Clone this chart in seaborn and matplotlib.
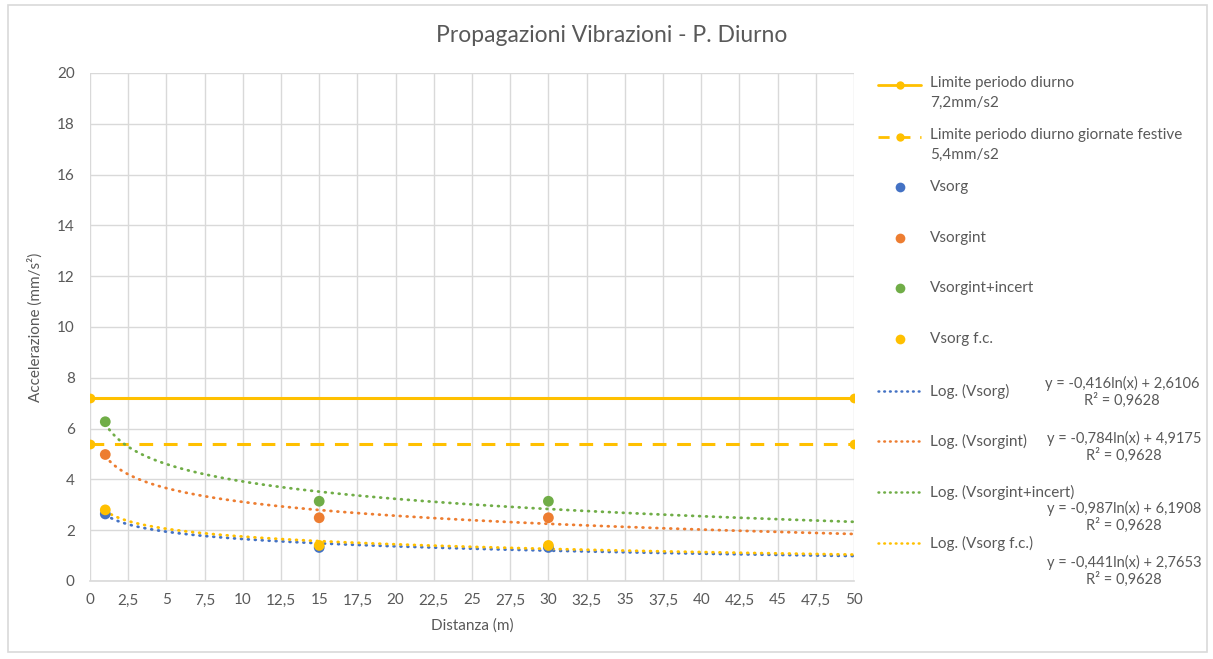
import numpy as np
import pandas as pd
import matplotlib
matplotlib.use("Agg")
import matplotlib.pyplot as plt
from matplotlib.lines import Line2D
from matplotlib.patches import Rectangle
from matplotlib.ticker import FuncFormatter, MultipleLocator
import seaborn as sns

# ---------------- data ----------------
distances = [1, 15, 30]
series_names = ["Vsorg", "Vsorgint", "Vsorgint+incert", "Vsorg f.c."]
vsorg = [2.64, 1.32, 1.32]
vsorgint = [4.98, 2.49, 2.49]
vsorgint_incert = [6.27, 3.14, 3.14]
vsorg_fc = [2.80, 1.40, 1.40]

limit_x = [0, 50]
limit_diurno = [7.2, 7.2]
limit_festive = [5.4, 5.4]

# trendline coefficients (y = a*ln(x) + b) as shown on the chart
trend_a = [-0.416, -0.784, -0.987, -0.441]
trend_b = [2.6106, 4.9175, 6.1908, 2.7653]
trend_r2 = [0.9628, 0.9628, 0.9628, 0.9628]
trend_x_range = [1, 50]

title = "Propagazioni Vibrazioni - P. Diurno"
xlabel = "Distanza (m)"
ylabel = "Accelerazione (mm/s²)"
limit_labels = ["Limite periodo diurno\n7,2mm/s2",
                "Limite periodo diurno giornate festive\n5,4mm/s2"]

# ---------------- style ----------------
sns.set_theme(style="white")
plt.rcParams["font.family"] = ["Lato", "DejaVu Sans"]
colors = ["#4472C4", "#ED7D31", "#70AD47", "#FFC000"]
gold = "#FFC000"
txt = "#595959"
grid = "#D9D9D9"

W, H = 1213, 659
fig = plt.figure(figsize=(W / 100, H / 100), dpi=100)
L, R, T, B = 90, 854, 73, 581
ax = fig.add_axes([L / W, 1 - B / H, (R - L) / W, (B - T) / H])

vals = [vsorg, vsorgint, vsorgint_incert, vsorg_fc]
pts = pd.DataFrame({
    "x": distances * 4,
    "y": sum(vals, []),
    "serie": np.repeat(series_names, len(distances)),
})

lim = pd.DataFrame({"x": limit_x * 2, "y": limit_diurno + limit_festive,
                    "serie": np.repeat(["d", "f"], 2)})
sns.lineplot(data=lim[lim.serie == "d"], x="x", y="y", ax=ax, color=gold,
             lw=2.2, marker="o", markersize=7, markeredgewidth=0, zorder=3)
sns.lineplot(data=lim[lim.serie == "f"], x="x", y="y", ax=ax, color=gold,
             lw=2.2, marker="o", markersize=7, markeredgewidth=0, zorder=3,
             dashes=False, linestyle=(0, (4.5, 3.5)))

xs = np.linspace(trend_x_range[0], trend_x_range[1], 400)
for a, b, c in zip(trend_a, trend_b, colors):
    tdf = pd.DataFrame({"x": xs, "y": a * np.log(xs) + b})
    sns.lineplot(data=tdf, x="x", y="y", ax=ax, color=c, lw=2.0,
                 linestyle=(0, (0.3, 2.2)), dash_capstyle="round", zorder=4)

sns.scatterplot(data=pts, x="x", y="y", hue="serie", hue_order=series_names,
                palette=colors, s=60, edgecolor="none", ax=ax, legend=False,
                zorder=5)

ax.set_xlim(0, 50)
ax.set_ylim(0, 20)
ax.xaxis.set_major_locator(MultipleLocator(2.5))
ax.yaxis.set_major_locator(MultipleLocator(2))
fmt = FuncFormatter(lambda v, p: (f"{v:g}").replace(".", ","))
ax.xaxis.set_major_formatter(fmt)
ax.yaxis.set_major_formatter(fmt)
ax.grid(True, color=grid, lw=1)
ax.set_axisbelow(True)
for s in ["top", "right", "left"]:
    ax.spines[s].set_visible(False)
ax.spines["bottom"].set_color(grid)
ax.spines["bottom"].set_linewidth(1.2)
ax.tick_params(axis="both", length=0, labelsize=11, colors=txt, pad=9)
ax.tick_params(axis="y", pad=11)
ax.set_xlabel(xlabel, fontsize=11, color=txt, labelpad=8)
ax.set_ylabel(ylabel, fontsize=11, color=txt, labelpad=10)
fig.text(612 / W, 1 - 36 / H, title, ha="center", va="center",
         fontsize=16.5, color=txt)

# ---------------- legend (manual, Excel-like) ----------------
def fx(px):
    return px / W

def fy(py):
    return 1 - py / H

hx0, hx1, hxm, tx = 878, 921, 900, 930
fs = 11
for yy, lbl, ls in [(85, limit_labels[0], "-"), (137, limit_labels[1], (0, (4, 3.5)))]:
    fig.add_artist(Line2D([fx(hx0), fx(hx1)], [fy(yy), fy(yy)], color=gold,
                          lw=2, linestyle=ls, transform=fig.transFigure))
    fig.add_artist(Line2D([fx(hxm)], [fy(yy)], color=gold, marker="o",
                          markersize=6, markeredgewidth=0, transform=fig.transFigure))
    fig.text(fx(tx), fy(yy - 9), lbl, ha="left", va="top", fontsize=fs,
             color=txt, linespacing=1.5)
for yy, lbl, c in zip([187, 238, 288, 339], series_names, colors):
    fig.add_artist(Line2D([fx(hxm)], [fy(yy)], color=c, marker="o",
                          markersize=7, markeredgewidth=0, linestyle="none",
                          transform=fig.transFigure))
    fig.text(fx(tx), fy(yy), lbl, ha="left", va="center", fontsize=fs, color=txt)
for yy, lbl, c in zip([391, 441, 492, 543], series_names, colors):
    fig.add_artist(Line2D([fx(hx0), fx(hx1)], [fy(yy), fy(yy)], color=c,
                          lw=1.8, linestyle=(0, (0.3, 2.0)),
                          dash_capstyle="round", transform=fig.transFigure))
    fig.text(fx(tx), fy(yy), f"Log. ({lbl})", ha="left", va="center",
             fontsize=fs, color=txt)

eq_pos = [(1122, 383), (1124, 438), (1124, 508), (1124, 562)]
for (ex, ey), a, b, r2 in zip(eq_pos, trend_a, trend_b, trend_r2):
    eq = f"y = {a:.3f}ln(x) + {b:.4f}".replace(".", ",")
    r2s = f"R² = {r2:.4f}".replace(".", ",")
    fig.text(fx(ex), fy(ey), eq, ha="center", va="center", fontsize=10.5, color=txt)
    fig.text(fx(ex), fy(ey + 17), r2s, ha="center", va="center", fontsize=10.5, color=txt)

fig.add_artist(Rectangle((fx(8), fy(652)), fx(1207 - 8), (652 - 5) / H,
                         transform=fig.transFigure, fill=False,
                         edgecolor=grid, lw=1.2))

fig.savefig("out.png", dpi=100, facecolor="white")
